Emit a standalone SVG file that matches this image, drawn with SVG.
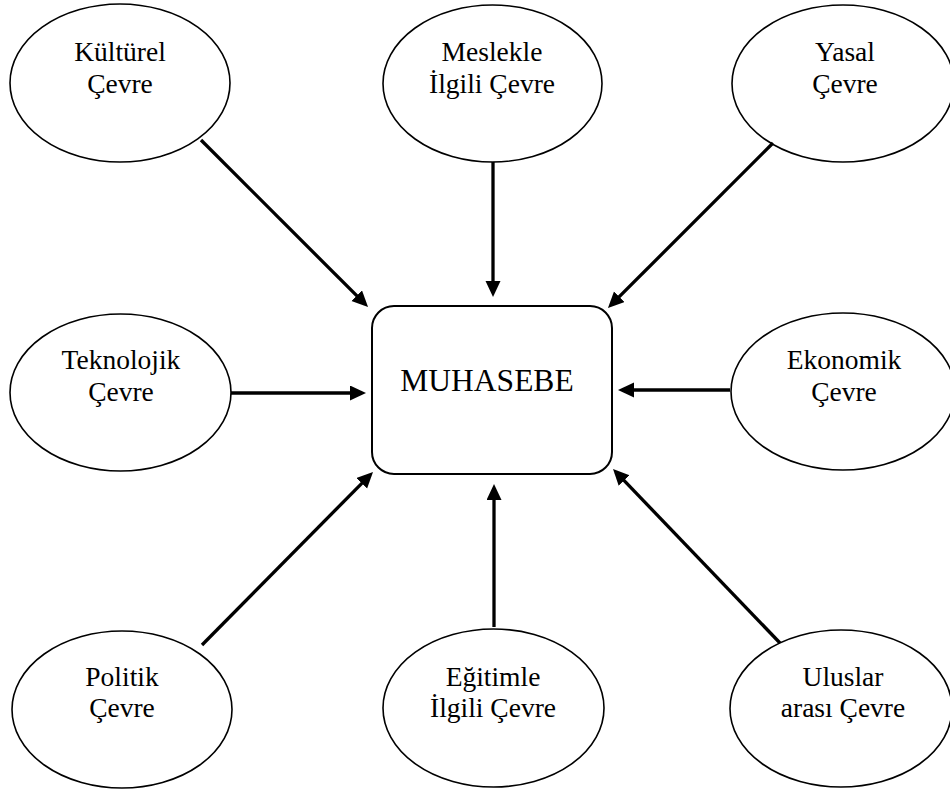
<svg xmlns="http://www.w3.org/2000/svg" width="950" height="790" viewBox="0 0 950 790">
<style>
.node ellipse{fill:#fff;stroke:#000;stroke-width:1.6}
.lbl{font-family:"Liberation Serif","Times New Roman",serif;font-size:27.5px;fill:#000;text-anchor:middle}
.main{font-family:"Liberation Serif","Times New Roman",serif;font-size:31.5px;fill:#000;text-anchor:middle}
.conn line{stroke:#000;stroke-width:3.3;marker-end:url(#ah)}
</style>
<defs>
<marker id="ah" markerUnits="userSpaceOnUse" markerWidth="17" markerHeight="16" refX="12" refY="7.5" orient="auto">
<path d="M0,0 L16,7.5 L0,15 z" fill="#000"/>
</marker>
</defs>
<rect width="950" height="790" fill="#fff"/>
<g id="muhasebe" class="node">
<rect x="372" y="306" width="240" height="168" rx="22" ry="22" fill="#fff" stroke="#000" stroke-width="2"/>
<text class="main" x="487" y="391">MUHASEBE</text>
</g>
<g id="kulturel" class="node">
<ellipse cx="120" cy="83" rx="110" ry="79"/>
<text class="lbl" x="120" y="61">Kültürel</text>
<text class="lbl" x="120" y="93">Çevre</text>
</g>
<g id="meslekle" class="node">
<ellipse cx="492.5" cy="83.5" rx="109.5" ry="78.5"/>
<text class="lbl" x="492" y="61">Meslekle</text>
<text class="lbl" x="492" y="93">İlgili Çevre</text>
</g>
<g id="yasal" class="node">
<ellipse cx="843" cy="83.5" rx="111" ry="78.5"/>
<text class="lbl" x="845" y="61">Yasal</text>
<text class="lbl" x="845" y="93">Çevre</text>
</g>
<g id="teknolojik" class="node">
<ellipse cx="120.5" cy="392.5" rx="110.5" ry="78.5"/>
<text class="lbl" x="121" y="369">Teknolojik</text>
<text class="lbl" x="121" y="401">Çevre</text>
</g>
<g id="ekonomik" class="node">
<ellipse cx="843" cy="391.5" rx="112" ry="78.5"/>
<text class="lbl" x="844" y="369">Ekonomik</text>
<text class="lbl" x="844" y="401">Çevre</text>
</g>
<g id="politik" class="node">
<ellipse cx="122" cy="709.5" rx="110" ry="78.5"/>
<text class="lbl" x="122" y="686">Politik</text>
<text class="lbl" x="122" y="717">Çevre</text>
</g>
<g id="egitimle" class="node">
<ellipse cx="493.5" cy="708" rx="110.5" ry="79"/>
<text class="lbl" x="493" y="686">Eğitimle</text>
<text class="lbl" x="493" y="717">İlgili Çevre</text>
</g>
<g id="uluslar" class="node">
<ellipse cx="841" cy="708.5" rx="111" ry="78.5"/>
<text class="lbl" x="843" y="686">Uluslar</text>
<text class="lbl" x="843" y="717">arası Çevre</text>
</g>
<g id="connectors" class="conn">
<line x1="201" y1="140" x2="365.2" y2="304.2"/>
<line x1="493" y1="162" x2="493" y2="293"/>
<line x1="773" y1="143" x2="610.8" y2="305.2"/>
<line x1="231" y1="393" x2="362" y2="393"/>
<line x1="730" y1="390" x2="622" y2="390"/>
<line x1="202" y1="645" x2="370.2" y2="474.8"/>
<line x1="494" y1="627" x2="494" y2="488"/>
<line x1="780" y1="643" x2="615.8" y2="471.9"/>
</g>
</svg>
